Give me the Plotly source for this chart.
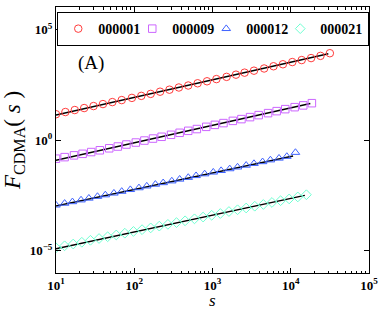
import plotly.graph_objects as go

# ---------------- data (log10 values) ----------------
names = ["000001", "000009", "000012", "000021"]

logs_000001 = [1.00, 1.12, 1.24, 1.36, 1.48, 1.60, 1.72, 1.84, 1.97, 2.09, 2.21, 2.33, 2.45, 2.57, 2.69,
               2.81, 2.93, 3.05, 3.18, 3.30, 3.41, 3.53, 3.66, 3.78, 3.90, 4.02, 4.14, 4.26, 4.38, 4.50]
logF_000001 = [1.18, 1.28, 1.37, 1.46, 1.55, 1.64, 1.73, 1.82, 1.92, 2.01, 2.10, 2.20, 2.29, 2.39, 2.48,
               2.58, 2.67, 2.77, 2.87, 2.97, 3.06, 3.15, 3.25, 3.35, 3.44, 3.54, 3.63, 3.72, 3.82, 3.94]

logs_000009 = [1.00, 1.11, 1.23, 1.34, 1.45, 1.56, 1.68, 1.79, 1.90, 2.02, 2.13, 2.24, 2.35, 2.47, 2.58,
               2.69, 2.80, 2.92, 3.03, 3.14, 3.26, 3.37, 3.48, 3.59, 3.71, 3.82, 3.93, 4.05, 4.16, 4.27]
logF_000009 = [-0.83, -0.76, -0.68, -0.61, -0.53, -0.45, -0.36, -0.28, -0.19, -0.10, -0.01, 0.08, 0.16, 0.25, 0.34,
               0.43, 0.51, 0.61, 0.70, 0.78, 0.88, 0.96, 1.05, 1.14, 1.23, 1.32, 1.41, 1.50, 1.58, 1.68]

logs_000012 = [1.00, 1.11, 1.21, 1.32, 1.42, 1.53, 1.63, 1.74, 1.84, 1.95, 2.06, 2.16, 2.27, 2.37, 2.48,
               2.58, 2.69, 2.79, 2.90, 3.01, 3.11, 3.22, 3.32, 3.43, 3.53, 3.64, 3.74, 3.85, 3.95, 4.06]
logF_000012 = [-2.93, -2.85, -2.78, -2.70, -2.62, -2.54, -2.47, -2.39, -2.31, -2.23, -2.15, -2.07, -1.99, -1.92, -1.84,
               -1.76, -1.68, -1.60, -1.52, -1.44, -1.37, -1.29, -1.21, -1.13, -1.05, -0.97, -0.89, -0.81, -0.73, -0.55]

logs_000021 = [1.00, 1.11, 1.22, 1.33, 1.44, 1.55, 1.66, 1.77, 1.88, 1.99, 2.10, 2.21, 2.32, 2.43, 2.54,
               2.65, 2.77, 2.88, 2.99, 3.10, 3.21, 3.32, 3.43, 3.54, 3.65, 3.76, 3.87, 3.98, 4.09, 4.20]
logF_000021 = [-4.86, -4.77, -4.69, -4.61, -4.52, -4.44, -4.36, -4.28, -4.20, -4.12, -4.04, -3.96, -3.88, -3.80, -3.72,
               -3.64, -3.55, -3.47, -3.39, -3.31, -3.22, -3.14, -3.06, -2.98, -2.90, -2.81, -2.73, -2.65, -2.56, -2.46]

# fitted power-law lines: log10 F at the fit's start and end, and log10 s at the fit's ends
fit_start_logF = [1.15, -0.90, -2.97, -4.90]
fit_end_logF = [3.915, 1.67, -0.71, -2.49]
fit_end_logs = [4.48, 4.25, 4.03, 4.18]
fit_start_logs = [1.0, 1.0, 1.0, 1.0]

x_tickvals = [10, 100, 1000, 10000, 100000]
x_ticktext = ["10<sup>1</sup>", "10<sup>2</sup>", "10<sup>3</sup>", "10<sup>4</sup>", "10<sup>5</sup>"]
x_minor_tickvals = [m * d for d in [10, 100, 1000, 10000] for m in [2, 3, 4, 5, 6, 7, 8, 9]]
y_tickvals = [1e-5, 1, 1e5]
y_ticktext = ["10<sup>−5</sup>", "10<sup>0</sup>", "10<sup>5</sup>"]

# ---------------- styles ----------------
colors = ["#FF3B3B", "#CC66FF", "#3F63FF", "#6FFFD2"]
symbols = ["circle-open", "square-open", "triangle-up-open", "diamond-open"]
legend_widths = [29, 29, 29, 43]
all_logs = [logs_000001, logs_000009, logs_000012, logs_000021]
all_logF = [logF_000001, logF_000009, logF_000012, logF_000021]

serif = "Liberation Serif, Times New Roman, serif"
fig = go.Figure()

for i in range(4):
    fig.add_trace(go.Scatter(
        x=[10 ** fit_start_logs[i], 10 ** fit_end_logs[i]],
        y=[10 ** fit_start_logF[i], 10 ** fit_end_logF[i]],
        mode="lines", line=dict(color="black", width=1.5),
        showlegend=False, hoverinfo="skip"))

for i in range(4):
    fig.add_trace(go.Scatter(
        x=[10 ** v for v in all_logs[i]],
        y=[10 ** v for v in all_logF[i]],
        mode="markers", name=names[i], legendwidth=legend_widths[i],
        marker=dict(symbol=symbols[i], size=7.5, color=colors[i], line=dict(width=1, color=colors[i]))))

axis_common = dict(
    type="log", showgrid=False, zeroline=False, showline=True, linecolor="black", linewidth=1,
    mirror="ticks", ticks="inside", ticklen=5, tickwidth=1, tickcolor="black", automargin=False,
    tickfont=dict(family=serif, size=13, color="black", weight="bold"),
)

fig.update_xaxes(
    **axis_common, range=[1, 5], tickvals=x_tickvals, ticktext=x_ticktext,
    minor=dict(ticks="inside", ticklen=2.5, tickcolor="black", showgrid=False, tickvals=x_minor_tickvals),
)
fig.update_yaxes(
    **axis_common, range=[-6.0, 6.03], tickvals=y_tickvals, ticktext=y_ticktext,
    title=dict(text="<i>F</i><sub>CDMA</sub>( <i>s</i> )", font=dict(family=serif, size=23, color="black"),
               standoff=6),
)

fig.add_annotation(x=0.5, y=-0.105, xref="paper", yref="paper", text="<i>s</i>", showarrow=False,
                   font=dict(family=serif, size=17, color="black"), xanchor="center", yanchor="middle")
fig.add_annotation(x=0.112, y=0.789, xref="paper", yref="paper", text="(A)", showarrow=False,
                   font=dict(family=serif, size=19, color="black"), xanchor="center", yanchor="middle")

fig.update_layout(
    width=382, height=309,
    margin=dict(l=56, r=13, t=7, b=36, autoexpand=False),
    plot_bgcolor="white", paper_bgcolor="white",
    legend=dict(orientation="h", x=0.004, y=0.981, xanchor="left", yanchor="top",
                bordercolor="black", borderwidth=1, bgcolor="white",
                font=dict(family=serif, size=14, color="black", weight="bold"),
                itemwidth=30, tracegroupgap=0, entrywidth=29, entrywidthmode="pixels"),
)

fig.write_html("out.html", config={"displayModeBar": False},
               post_script="document.body.style.margin='0';document.body.style.overflow='hidden';")
